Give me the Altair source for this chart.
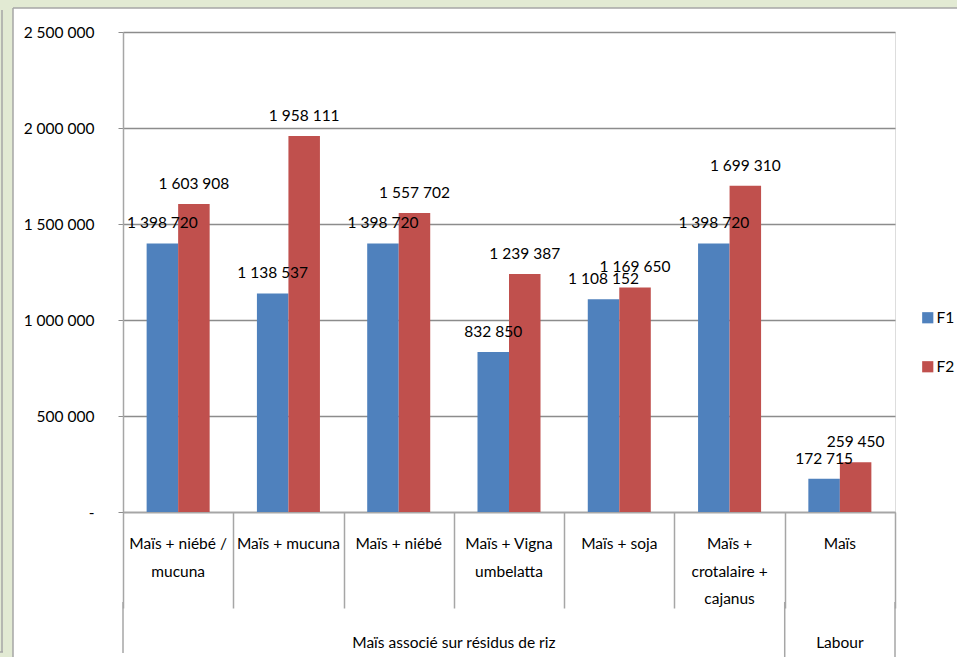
import altair as alt
import pandas as pd

# Categories along the x axis (plus their multi-line labels)
categories = [
    "Maïs + niébé / mucuna",
    "Maïs + mucuna",
    "Maïs + niébé",
    "Maïs + Vigna umbelatta",
    "Maïs + soja",
    "Maïs + crotalaire + cajanus",
    "Maïs",
]
category_labels = [
    "Maïs + niébé /\nmucuna",
    "Maïs + mucuna",
    "Maïs + niébé",
    "Maïs + Vigna\numbelatta",
    "Maïs + soja",
    "Maïs +\ncrotalaire +\ncajanus",
    "Maïs",
]
series_names = ["F1", "F2"]
f1_values = [1398720, 1138537, 1398720, 832850, 1108152, 1398720, 172715]
f2_values = [1603908, 1958111, 1557702, 1239387, 1169650, 1699310, 259450]
y_ticks = [0, 500000, 1000000, 1500000, 2000000, 2500000]
group_names = ["Maïs associé sur résidus de riz", "Labour"]

FONT = "Lato, Liberation Sans, sans-serif"
FS = 15.5
BLUE, RED = "#4f81bd", "#c0504d"
GREEN = "#e2ead3"
LINE = "#a6a6a6"


def fmt(v):
    return f"{v:,}".replace(",", " ")


rows = []
for cat, a, b in zip(categories, f1_values, f2_values):
    rows.append({"cat": cat, "series": "F1", "value": a, "label": fmt(a)})
    rows.append({"cat": cat, "series": "F2", "value": b, "label": fmt(b)})
bars_df = pd.DataFrame(rows)
cats_df = pd.DataFrame({"cat": categories, "text": category_labels})
one = pd.DataFrame({"k": [0]})

x_scale = alt.Scale(domain=categories, paddingInner=0, paddingOuter=0)
x_axis = alt.Axis(
    title=None, labels=False, grid=False, tickBand="extent", tickSize=96,
    tickColor=LINE, domainColor=LINE, tickWidth=1.5, domainWidth=1.5,
)
y_scale = alt.Scale(domain=[0, 2500000], nice=False)
y_axis = alt.Axis(
    title=None, values=y_ticks, grid=True, gridColor="#8c8c8c", gridWidth=1.3,
    tickColor="#8c8c8c", tickSize=5, domainColor=LINE, domainWidth=1.5,
    labelPadding=24, labelFont=FONT, labelFontSize=FS, labelColor="black",
    labelExpr="datum.value == 0 ? '-\u00a0\u00a0' : replace(format(datum.value, ','), regexp(',', 'g'), ' ')",
)
offset_scale = alt.Scale(domain=series_names, paddingOuter=0.75, paddingInner=0)


def X(band_pos=None):
    if band_pos is None:
        return alt.X("cat:N", scale=x_scale, axis=x_axis, sort=categories)
    return alt.X("cat:N", scale=x_scale, axis=x_axis, sort=categories, bandPosition=band_pos)


base = alt.Chart(bars_df)

bars = base.mark_bar().encode(
    x=X(),
    xOffset=alt.XOffset("series:N", scale=offset_scale),
    y=alt.Y("value:Q", scale=y_scale, axis=y_axis),
    color=alt.Color(
        "series:N",
        scale=alt.Scale(domain=series_names, range=[BLUE, RED]),
        legend=alt.Legend(
            orient="none", legendX=797, legendY=278, title=None,
            symbolType="square", symbolSize=125, symbolStrokeWidth=0,
            labelFont=FONT, labelFontSize=FS, labelColor="black",
            rowPadding=32, labelOffset=1,
        ),
    ),
)

bar_labels = base.mark_text(font=FONT, fontSize=FS, color="black", baseline="middle", dy=-20).encode(
    x=X(),
    xOffset=alt.XOffset("series:N", scale=offset_scale),
    y=alt.Y("value:Q", scale=y_scale, axis=y_axis),
    text="label:N",
)

cat_text = alt.Chart(cats_df).mark_text(
    font=FONT, fontSize=FS, color="black", lineBreak="\n", lineHeight=27.5,
    align="center", baseline="alphabetic",
).encode(x=X(0.5), y=alt.value(517), text="text:N")

group_main = alt.Chart(pd.DataFrame({"cat": [categories[3]], "g": [group_names[0]]})).mark_text(
    font=FONT, fontSize=FS, color="black", align="center", baseline="alphabetic",
).encode(x=X(0), y=alt.value(616), text="g:N")

group_labour = alt.Chart(pd.DataFrame({"cat": [categories[6]], "g": [group_names[1]]})).mark_text(
    font=FONT, fontSize=FS, color="black", align="center", baseline="alphabetic",
).encode(x=X(0.5), y=alt.value(616), text="g:N")

# Group separators below the category ticks
sep_first = alt.Chart(pd.DataFrame({"cat": [categories[0]]})).mark_rule(color=LINE, strokeWidth=1.5).encode(
    x=X(0), y=alt.value(570), y2=alt.value(621))
sep_labour = alt.Chart(pd.DataFrame({"cat": [categories[6]]})).mark_rule(color=LINE, strokeWidth=1.5).encode(
    x=X(0), y=alt.value(570), y2=alt.value(630))
sep_end = alt.Chart(pd.DataFrame({"cat": [categories[6]]})).mark_rule(color=LINE, strokeWidth=1.5).encode(
    x=X(1), y=alt.value(570), y2=alt.value(630))

# Frame: green strips on top and left with grey borders
frame_top = alt.Chart(one).mark_rect(color=GREEN).encode(
    x=alt.value(-123), x2=alt.value(834), y=alt.value(-32), y2=alt.value(-24))
frame_left = alt.Chart(one).mark_rect(color=GREEN).encode(
    x=alt.value(-123), x2=alt.value(-110), y=alt.value(-32), y2=alt.value(625))
border_top = alt.Chart(one).mark_rule(color=LINE, strokeWidth=1.5).encode(
    x=alt.value(-110), x2=alt.value(834), y=alt.value(-24))
border_left = alt.Chart(one).mark_rule(color=LINE, strokeWidth=1.5).encode(
    x=alt.value(-110), y=alt.value(-24), y2=alt.value(625))
outer_left = alt.Chart(one).mark_rule(color=LINE, strokeWidth=1.5).encode(
    x=alt.value(-121), y=alt.value(-22), y2=alt.value(620))
outer_foot = alt.Chart(one).mark_rule(color=LINE, strokeWidth=1.5).encode(
    x=alt.value(-123), x2=alt.value(-120), y=alt.value(620))

chart = alt.layer(
    bars, bar_labels, cat_text, group_main, group_labour,
    sep_first, sep_labour, sep_end,
    frame_top, frame_left, border_top, border_left, outer_left, outer_foot,
).properties(
    width=772, height=480,
    autosize=alt.AutoSizeParams(type="none"),
    padding={"left": 123, "top": 32, "right": 62, "bottom": 145},
    background="white",
).configure_view(stroke=None).configure(font=FONT)

chart.save("out.html", embed_options={"renderer": "svg", "actions": False})
